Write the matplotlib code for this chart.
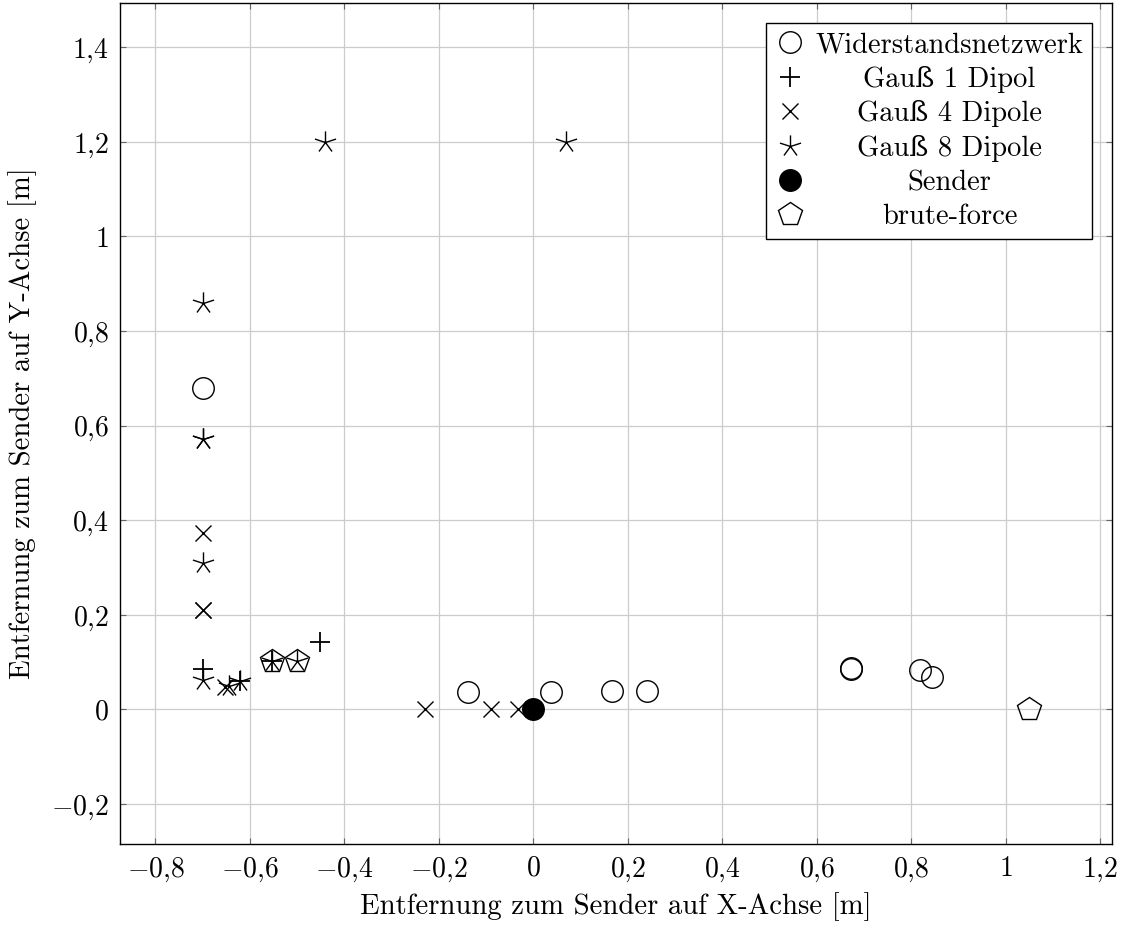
import numpy as np
import matplotlib
matplotlib.use("Agg")
import matplotlib.pyplot as plt
from matplotlib.path import Path
from matplotlib.lines import Line2D

plt.rcParams['font.family'] = ['cmr10', 'DejaVu Serif']
plt.rcParams['mathtext.fontset'] = 'cm'
plt.rcParams['axes.unicode_minus'] = True

# data
wid_x = [-0.70, -0.138, 0.038, 0.166, 0.241, 0.672, 0.673, 0.818, 0.845]
wid_y = [0.68, 0.037, 0.037, 0.039, 0.039, 0.088, 0.084, 0.083, 0.068]

g1_x = [-0.70, -0.452, -0.622, -0.553]
g1_y = [0.085, 0.143, 0.060, 0.102]

g4_x = [-0.70, -0.70, -0.70, -0.23, -0.09, -0.032, -0.652]
g4_y = [0.372, 0.21, 0.21, 0.0, 0.0, 0.0, 0.047]

g8_x = [-0.70, -0.70, -0.70, -0.70, -0.70, -0.645, -0.622, -0.553, -0.501, -0.44, 0.069]
g8_y = [0.86, 0.571, 0.571, 0.309, 0.061, 0.050, 0.060, 0.102, 0.102, 1.2, 1.2]

sender_x = [0.0]
sender_y = [0.0]

bf_x = [-0.553, -0.501, 1.05]
bf_y = [0.102, 0.102, 0.0]

xticks = [-0.8, -0.6, -0.4, -0.2, 0, 0.2, 0.4, 0.6, 0.8, 1.0, 1.2]
xticklabels = ['−0,8', '−0,6', '−0,4', '−0,2', '0', '0,2', '0,4', '0,6', '0,8', '1', '1,2']
yticks = [-0.2, 0, 0.2, 0.4, 0.6, 0.8, 1.0, 1.2, 1.4]
yticklabels = ['−0,2', '0', '0,2', '0,4', '0,6', '0,8', '1', '1,2', '1,4']


def mt(s):
    s = s.replace('−', '-').replace(',', '{,}')
    return '$' + s + '$'


# five-armed line star like the pgfplots one
verts = []
codes = []
for k in range(5):
    a = np.deg2rad(90 + 72 * k)
    verts += [(0, 0), (np.cos(a), np.sin(a))]
    codes += [Path.MOVETO, Path.LINETO]
star = Path(verts, codes)

fig = plt.figure(figsize=(11.28, 9.26), dpi=100)
ax = fig.add_axes([0.1064, 0.0882, 0.8794, 0.9086])

mew = 1.0
ax.plot(wid_x, wid_y, ls='none', marker='o', ms=15.5, mfc='none', mec='black', mew=mew)
ax.plot(g1_x, g1_y, ls='none', marker='+', ms=15, mec='black', mew=mew + 0.3)
ax.plot(g4_x, g4_y, ls='none', marker='x', ms=11, mec='black', mew=mew)
ax.plot(g8_x, g8_y, ls='none', marker=star, ms=16, mfc='none', mec='black', mew=mew)
ax.plot(sender_x, sender_y, ls='none', marker='o', ms=15.5, mfc='black', mec='black', zorder=5)
ax.plot(bf_x, bf_y, ls='none', marker='p', ms=18, mfc='none', mec='black', mew=mew)

ax.set_xlim(-0.875, 1.225)
ax.set_ylim(-0.286, 1.494)
ax.set_xticks(xticks)
ax.set_xticklabels([mt(s) for s in xticklabels])
ax.set_yticks(yticks)
ax.set_yticklabels([mt(s) for s in yticklabels])
ax.tick_params(direction='in', length=4, color='#666666', labelsize=20,
               top=True, right=True, pad=8)
ax.grid(True, color='#cccccc', lw=0.9)
ax.set_axisbelow(True)
for sp in ax.spines.values():
    sp.set_linewidth(1.0)

ax.set_xlabel('Entfernung zum Sender auf X-Achse [m]', fontsize=20.7, labelpad=6)
ax.set_ylabel('Entfernung zum Sender auf Y-Achse [m]', fontsize=20.7, labelpad=10)

handles = [
    Line2D([], [], ls='none', marker='o', ms=15.5, mfc='none', mec='black', mew=mew),
    Line2D([], [], ls='none', marker='+', ms=15, mec='black', mew=mew + 0.3),
    Line2D([], [], ls='none', marker='x', ms=11, mec='black', mew=mew),
    Line2D([], [], ls='none', marker=star, ms=16, mfc='none', mec='black', mew=mew),
    Line2D([], [], ls='none', marker='o', ms=15.5, mfc='black', mec='black'),
    Line2D([], [], ls='none', marker='p', ms=18, mfc='none', mec='black', mew=mew),
]
labels = ['Widerstandsnetzwerk', 'Gauß 1 Dipol', 'Gauß 4 Dipole', 'Gauß 8 Dipole',
          'Sender', 'brute-force']
leg = ax.legend(handles, labels, loc='upper right', bbox_to_anchor=(0.98, 0.976),
                borderaxespad=0, fontsize=20.5, frameon=True, fancybox=False,
                edgecolor='black', framealpha=1, handlelength=1.1,
                handletextpad=0.35, labelspacing=0.27, borderpad=0.3)
leg.get_frame().set_linewidth(1.0)

# center the legend texts like pgfplots does
fig.canvas.draw()
r = fig.canvas.get_renderer()
widths = [t.get_window_extent(r).width for t in leg.get_texts()]
wmax = max(widths)
for t, w in zip(leg.get_texts(), widths):
    t.set_position(((wmax - w) / 2, 0))

fig.savefig('out.png', dpi=100)
